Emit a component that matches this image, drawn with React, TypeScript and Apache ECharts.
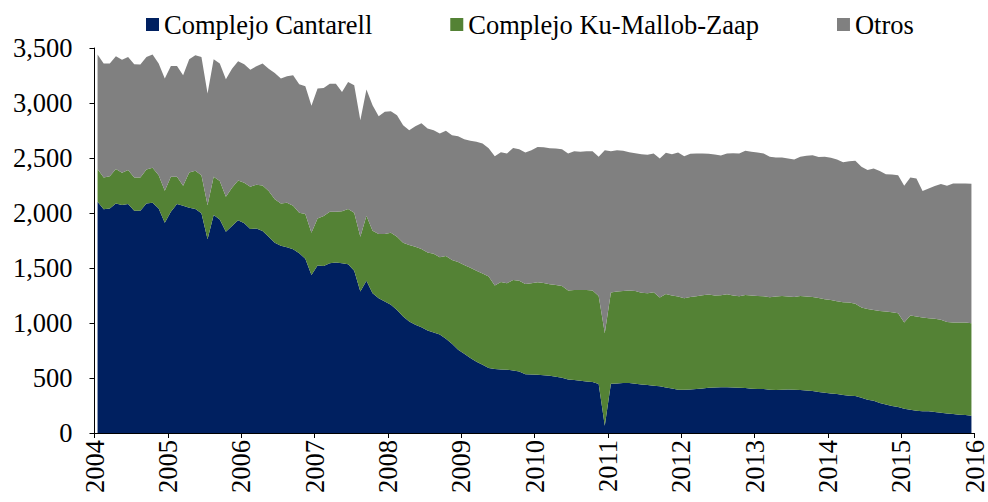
import React, { useEffect, useRef } from "react";
import * as echarts from "echarts";

const years = [2004, 2005, 2006, 2007, 2008, 2009, 2010, 2011, 2012, 2013, 2014, 2015];
const months: string[] = [];
years.forEach((y) => {
  for (let m = 1; m <= 12; m++) months.push(`${y}-${m < 10 ? "0" + m : m}`);
});

const seriesNames = ["Complejo Cantarell", "Complejo Ku-Mallob-Zaap", "Otros"];

const cantarell = [
  2102, 2033, 2042, 2087, 2072, 2081, 2021, 2021, 2087, 2093, 2042, 1912,
  2012, 2081, 2066, 2048, 2036, 1997, 1761, 1981, 1942, 1830, 1882, 1933,
  1906, 1854, 1860, 1836, 1785, 1730, 1703, 1688, 1670, 1634, 1585, 1437,
  1522, 1518, 1543, 1549, 1543, 1534, 1476, 1286, 1385, 1271, 1225, 1195,
  1165, 1119, 1059, 1013, 983, 962, 932, 914, 895, 856, 811, 756,
  720, 681, 647, 620, 590, 581, 578, 575, 569, 560, 535, 532,
  529, 526, 520, 511, 502, 487, 481, 475, 469, 463, 445, 67,
  448, 451, 454, 454, 448, 442, 436, 430, 424, 414, 405, 393,
  393, 396, 399, 405, 411, 414, 417, 417, 414, 411, 408, 402,
  399, 399, 393, 390, 393, 396, 393, 390, 387, 381, 372, 366,
  360, 354, 345, 339, 336, 321, 302, 293, 272, 260, 245, 236,
  221, 212, 203, 197, 197, 191, 185, 178, 172, 166, 163, 157,
];

const kuMallobZaap = [
  298, 290, 293, 312, 294, 309, 302, 302, 309, 318, 302, 290,
  317, 248, 182, 321, 348, 347, 311, 348, 348, 318, 348, 363,
  369, 385, 397, 415, 414, 394, 384, 405, 396, 369, 405, 384,
  429, 454, 469, 463, 472, 502, 527, 499, 590, 568, 584, 614,
  656, 666, 671, 696, 711, 711, 708, 716, 702, 753, 762, 799,
  808, 822, 829, 829, 832, 759, 795, 786, 823, 825, 820, 829,
  841, 838, 832, 835, 835, 808, 820, 826, 832, 832, 801, 841,
  829, 835, 838, 841, 844, 832, 835, 850, 807, 850, 844, 847,
  832, 841, 844, 847, 847, 835, 835, 844, 835, 832, 847, 847,
  847, 844, 841, 850, 853, 844, 844, 856, 853, 856, 856, 850,
  850, 844, 844, 847, 838, 819, 826, 826, 838, 844, 853, 853,
  783, 856, 856, 853, 847, 847, 844, 832, 832, 838, 841, 841,
];

const otros = [
  1040, 1035, 1025, 1025, 1028, 1028, 1029, 1026, 1022, 1029, 1014, 1020,
  1008, 1008, 1004, 1028, 1049, 1074, 1014, 1068, 1068, 1068, 1082, 1083,
  1077, 1064, 1077, 1107, 1113, 1149, 1135, 1150, 1186, 1167, 1162, 1153,
  1180, 1165, 1164, 1164, 1086, 1155, 1158, 1058, 1147, 1141, 1071, 1111,
  1104, 1104, 1068, 1044, 1095, 1143, 1128, 1123, 1126, 1138, 1134, 1143,
  1143, 1153, 1171, 1183, 1167, 1177, 1180, 1180, 1200, 1195, 1195, 1210,
  1231, 1234, 1237, 1240, 1243, 1246, 1261, 1255, 1261, 1267, 1265, 1663,
  1285, 1285, 1273, 1258, 1252, 1261, 1258, 1261, 1265, 1283, 1286, 1310,
  1292, 1301, 1298, 1289, 1280, 1283, 1271, 1280, 1295, 1298, 1310, 1307,
  1304, 1298, 1277, 1265, 1259, 1256, 1250, 1265, 1280, 1289, 1280, 1295,
  1292, 1289, 1273, 1285, 1300, 1280, 1262, 1286, 1271, 1249, 1252, 1255,
  1244, 1255, 1255, 1149, 1179, 1207, 1234, 1238, 1265, 1265, 1265, 1268,
];

const colors = ["#002060", "#548235", "#808080"];
const FONT = "Liberation Serif";

const fmt = (v: number) => String(v).replace(/\B(?=(\d{3})+(?!\d))/g, ",");

export default function App() {
  const ref = useRef<HTMLDivElement>(null);
  useEffect(() => {
    document.body.style.margin = "0";
    const chart = echarts.init(ref.current!, null, { renderer: "svg" });
    const values = [cantarell, kuMallobZaap, otros];
    chart.setOption({
      animation: false,
      textStyle: { fontFamily: FONT },
      legend: {
        left: 146,
        top: 11,
        padding: 0,
        icon: "rect",
        itemWidth: 13,
        itemHeight: 13,
        itemGap: 78,
        textStyle: { fontFamily: FONT, fontSize: 26.5, color: "#000" },
        data: seriesNames,
      },
      grid: { left: 94.5, right: 10, top: 48, bottom: 69 },
      xAxis: [
        { type: "category", data: months, boundaryGap: true, show: false },
        {
          type: "value",
          min: 2004,
          max: 2016,
          interval: 1,
          position: "bottom",
          axisLine: { show: true, lineStyle: { color: "#000", width: 1 } },
          axisTick: { show: true, length: 5, lineStyle: { color: "#000" } },
          axisLabel: {
            rotate: 90,
            margin: 7,
            fontSize: 26.5,
            color: "#000",
            fontFamily: FONT,
            showMinLabel: true,
            showMaxLabel: true,
            formatter: (v: number) => String(v),
          },
          splitLine: { show: false },
        },
      ],
      yAxis: {
        type: "value",
        min: 0,
        max: 3500,
        interval: 500,
        axisLine: { show: true, lineStyle: { color: "#000", width: 1 } },
        axisTick: { show: true, length: 5, lineStyle: { color: "#000" } },
        axisLabel: { margin: 22, fontSize: 26.5, color: "#000", fontFamily: FONT, formatter: (v: number) => fmt(v) },
        splitLine: { show: false },
      },
      series: seriesNames.map((name, i) => ({
        name,
        type: "line",
        stack: "total",
        xAxisIndex: 0,
        data: values[i],
        symbol: "none",
        showSymbol: false,
        lineStyle: { width: 0 },
        areaStyle: { color: colors[i], opacity: 1 },
        itemStyle: { color: colors[i] },
      })),
    });
    return () => chart.dispose();
  }, []);
  return <div ref={ref} style={{ width: 988, height: 502 }} />;
}
